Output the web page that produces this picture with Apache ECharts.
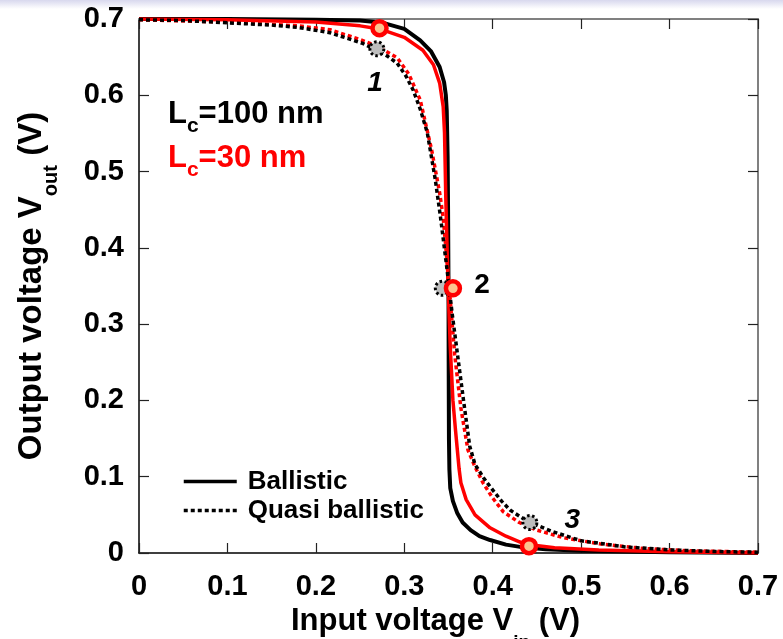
<!DOCTYPE html>
<html>
<head>
<meta charset="utf-8">
<title>Inverter transfer curve</title>
<script src="https://cdn.jsdelivr.net/npm/echarts@6/dist/echarts.min.js"></script>
<style>
  html, body { margin: 0; padding: 0; background: #fff; }
  #chart { width: 783px; height: 639px; }
</style>
</head>
<body>
<div id="chart"></div>
<script>
const FONT = '"Liberation Sans", Arial, sans-serif'

// [Vin, Vout] pairs
const ballistic100 = [
  [0, 0.700], [0.1, 0.700], [0.2, 0.699], [0.25, 0.698], [0.276, 0.695], [0.3, 0.687],
  [0.318, 0.672], [0.33, 0.658], [0.34, 0.637], [0.345, 0.617], [0.347, 0.6], [0.348, 0.58],
  [0.349, 0.52], [0.3495, 0.45], [0.35, 0.35], [0.3502, 0.25], [0.3505, 0.15], [0.351, 0.11],
  [0.352, 0.085], [0.355, 0.068], [0.36, 0.052], [0.366, 0.04], [0.375, 0.03], [0.385, 0.022],
  [0.397, 0.017], [0.415, 0.011], [0.431, 0.008], [0.46, 0.005], [0.5, 0.003], [0.6, 0.001], [0.7, 0]
]
const ballistic30 = [
  [0, 0.700], [0.1, 0.699], [0.2, 0.696], [0.25, 0.691], [0.272, 0.687], [0.3, 0.676],
  [0.321, 0.659], [0.333, 0.64], [0.34, 0.616], [0.344, 0.585], [0.3455, 0.551], [0.347, 0.463],
  [0.3495, 0.35], [0.352, 0.27], [0.355, 0.2], [0.358, 0.16], [0.36, 0.135], [0.362, 0.11],
  [0.364, 0.092], [0.37, 0.07], [0.38, 0.05], [0.397, 0.033], [0.415, 0.022], [0.431, 0.0144],
  [0.44, 0.011], [0.47, 0.007], [0.52, 0.004], [0.6, 0.0015], [0.7, 0]
]
const quasi100 = [
  [0, 0.699], [0.05, 0.698], [0.1, 0.695], [0.15, 0.692], [0.18, 0.689], [0.216, 0.682],
  [0.24, 0.673], [0.253, 0.668], [0.269, 0.659], [0.28, 0.652], [0.292, 0.642], [0.302, 0.625],
  [0.31, 0.607], [0.318, 0.582], [0.326, 0.551], [0.335, 0.49], [0.341, 0.44], [0.348, 0.375],
  [0.354, 0.315], [0.361, 0.253], [0.367, 0.2], [0.374, 0.14], [0.38, 0.116], [0.39, 0.098],
  [0.397, 0.087], [0.41, 0.068], [0.42, 0.056], [0.44, 0.041], [0.468, 0.028], [0.5, 0.016],
  [0.55, 0.008], [0.6, 0.004], [0.65, 0.002], [0.7, 0.001]
]
const quasi30 = [
  [0, 0.699], [0.1, 0.696], [0.18, 0.691], [0.216, 0.686], [0.25, 0.673], [0.27, 0.664],
  [0.292, 0.649], [0.305, 0.628], [0.318, 0.594], [0.331, 0.528], [0.34, 0.472], [0.344, 0.44],
  [0.35, 0.36], [0.357, 0.26], [0.364, 0.19], [0.372, 0.135], [0.38, 0.113], [0.389, 0.092],
  [0.4, 0.072], [0.412, 0.054], [0.43, 0.04], [0.45, 0.03], [0.48, 0.02], [0.521, 0.012],
  [0.57, 0.006], [0.62, 0.003], [0.7, 0.001]
]

// operating points 1, 2, 3
const ballisticPoints = [[0.272, 0.688], [0.355, 0.347], [0.441, 0.009]]
const quasiPoints = [[0.269, 0.661], [0.343, 0.347], [0.442, 0.04]]
const pointNames = ['1', '2', '3']
const pointNameAt = [[0.267, 0.616], [0.388, 0.351], [0.49, 0.043]]

const xTickLabels = ['0', '0.1', '0.2', '0.3', '0.4', '0.5', '0.6', '0.7']
const yTickLabels = ['0', '0.1', '0.2', '0.3', '0.4', '0.5', '0.6', '0.7']

const tickText = (labels) => (v) => labels[Math.round(v * 10)]

const frameAxis = {
  min: 0,
  max: 0.7,
  interval: 0.1,
  splitLine: { show: false },
  axisTick: { inside: true, length: 10, lineStyle: { color: '#222', width: 1.2 } },
}

const chart = echarts.init(document.getElementById('chart'))

const option = {
  animation: false,
  backgroundColor: '#fff',
  grid: { left: 139, right: 25, top: 19, bottom: 86, containLabel: false, outerBoundsMode: 'none' },
  xAxis: [
    {
      ...frameAxis,
      type: 'value',
      position: 'bottom',
      axisLine: { onZero: false, lineStyle: { color: '#000', width: 1.5 } },
      axisLabel: {
        margin: 19,
        fontSize: 29,
        fontWeight: 'bold',
        color: '#000',
        fontFamily: FONT,
        formatter: tickText(xTickLabels),
      },
      name: '{a|Input voltage V}{s|in}{e| (V)}',
      nameLocation: 'middle',
      nameGap: 40,
      nameTextStyle: {
        rich: {
          a: { fontSize: 31, fontWeight: 'bold', fontFamily: FONT, color: '#000', lineHeight: 36, verticalAlign: 'top' },
          s: { fontSize: 19, fontWeight: 'bold', fontFamily: FONT, color: '#000', lineHeight: 19, verticalAlign: 'top', padding: [27, 0, 0, 0] },
          e: { fontSize: 31, fontWeight: 'bold', fontFamily: FONT, color: '#000', lineHeight: 36, verticalAlign: 'top', padding: [0, 26, 0, 0] },
        },
      },
    },
    {
      ...frameAxis,
      type: 'value',
      position: 'top',
      axisLine: { onZero: false, lineStyle: { color: '#808080', width: 2 } },
      axisLabel: { show: false },
    },
  ],
  yAxis: [
    {
      ...frameAxis,
      type: 'value',
      position: 'left',
      axisLine: { onZero: false, lineStyle: { color: '#000', width: 1.5 } },
      axisLabel: {
        margin: 15,
        fontSize: 29,
        fontWeight: 'bold',
        color: '#000',
        fontFamily: FONT,
        formatter: tickText(yTickLabels),
      },
      name: '{a|Output voltage V}{s|out}{a| (V)}',
      nameLocation: 'middle',
      nameGap: 86,
      nameTextStyle: {
        rich: {
          a: { fontSize: 33, fontWeight: 'bold', fontFamily: FONT, color: '#000', lineHeight: 38, verticalAlign: 'top' },
          s: { fontSize: 20, fontWeight: 'bold', fontFamily: FONT, color: '#000', lineHeight: 20, verticalAlign: 'top', padding: [26, 0, 0, 0] },
        },
      },
    },
    {
      ...frameAxis,
      type: 'value',
      position: 'right',
      axisLine: { onZero: false, lineStyle: { color: '#808080', width: 2 } },
      axisLabel: { show: false },
    },
  ],
  legend: {
    data: ['Ballistic', 'Quasi ballistic'],
    orient: 'vertical',
    left: 177,
    top: 462,
    itemWidth: 53,
    itemHeight: 14,
    itemGap: 0,
    selectedMode: false,
    itemStyle: { opacity: 0 },
    lineStyle: { width: 3.5 },
    textStyle: { fontSize: 26, fontWeight: 'bold', color: '#000', fontFamily: FONT, lineHeight: 29, padding: [0, 0, 0, 6] },
  },
  graphic: [
    {
      type: 'rect',
      left: 0,
      top: 0,
      z: -10,
      shape: { width: 783, height: 9 },
      style: {
        fill: new echarts.graphic.LinearGradient(0, 0, 0, 1, [
          { offset: 0, color: '#d8d8ee' },
          { offset: 1, color: '#ffffff' },
        ]),
      },
    },
    {
      type: 'text',
      left: 168,
      top: 99,
      style: {
        text: '{a|L}{s|c}{a|=100 nm}',
        rich: {
          a: { fontSize: 31, fontWeight: 'bold', fontFamily: FONT, fill: '#000', lineHeight: 34, verticalAlign: 'top' },
          s: { fontSize: 21, fontWeight: 'bold', fontFamily: FONT, fill: '#000', lineHeight: 21, verticalAlign: 'top', padding: [17, 0, 0, 0] },
        },
      },
    },
    {
      type: 'text',
      left: 168,
      top: 143,
      style: {
        text: '{a|L}{s|c}{a|=30 nm}',
        rich: {
          a: { fontSize: 31, fontWeight: 'bold', fontFamily: FONT, fill: '#ff0000', lineHeight: 34, verticalAlign: 'top' },
          s: { fontSize: 21, fontWeight: 'bold', fontFamily: FONT, fill: '#ff0000', lineHeight: 21, verticalAlign: 'top', padding: [17, 0, 0, 0] },
        },
      },
    },
  ],
  series: [
    {
      name: 'Ballistic',
      type: 'line',
      data: ballistic100,
      symbol: 'none',
      lineStyle: { color: '#000', width: 4 },
      itemStyle: { color: '#000' },
    },
    {
      name: 'Ballistic, Lc=30 nm',
      type: 'line',
      data: ballistic30,
      symbol: 'none',
      lineStyle: { color: '#ff0000', width: 3.5 },
      itemStyle: { color: '#ff0000' },
    },
    {
      name: 'Quasi ballistic, Lc=30 nm',
      type: 'line',
      data: quasi30,
      symbol: 'none',
      lineStyle: { color: '#ff0000', width: 3.5, type: [4, 3], cap: 'butt' },
      itemStyle: { color: '#ff0000' },
    },
    {
      name: 'Quasi ballistic',
      type: 'line',
      data: quasi100,
      symbol: 'none',
      lineStyle: { color: '#000', width: 3.5, type: [4, 3], cap: 'butt' },
      itemStyle: { color: '#000' },
    },
    {
      name: 'quasi points',
      type: 'scatter',
      data: quasiPoints,
      symbol: 'circle',
      symbolSize: 14,
      itemStyle: { color: '#bdbdbd', borderColor: '#000', borderWidth: 3, borderType: [2.5, 2.5], opacity: 1 },
      z: 3,
    },
    {
      name: 'ballistic points',
      type: 'scatter',
      data: ballisticPoints,
      symbol: 'circle',
      symbolSize: 14,
      itemStyle: { color: '#fcc390', borderColor: '#ff0000', borderWidth: 4.5, opacity: 1 },
      z: 4,
    },
    {
      name: 'point names',
      type: 'scatter',
      data: pointNameAt.map((p, i) => ({
        value: p,
        label: { fontStyle: pointNames[i] === '2' ? 'normal' : 'italic' },
      })),
      symbolSize: 1,
      itemStyle: { color: 'transparent', opacity: 1 },
      label: {
        show: true,
        position: 'inside',
        fontSize: 28,
        fontWeight: 'bold',
        fontFamily: FONT,
        color: '#000',
        opacity: 1,
        formatter: (p) => pointNames[p.dataIndex],
      },
      z: 5,
    },
  ],
}

chart.setOption(option)
</script>
</body>
</html>
